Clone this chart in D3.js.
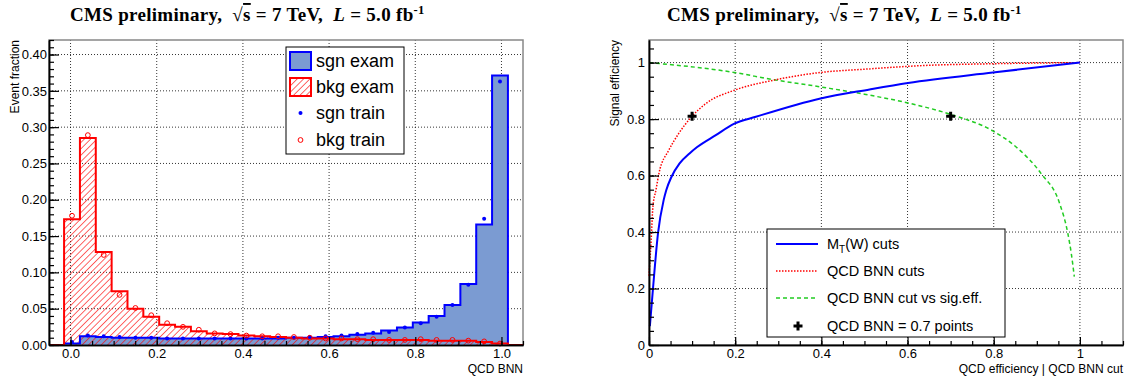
<!DOCTYPE html>
<html lang="en">
<head>
<meta charset="UTF-8">
<title>QCD BNN output and efficiencies</title>
<script src="https://d3js.org/d3.v7.min.js"></script>
<style>
body { margin: 0; background: #fff; }
text { font-family: "Liberation Sans", Arial, sans-serif; fill: #000; }
.title { font-family: "Liberation Serif", "Times New Roman", serif; font-weight: bold; font-size: 19px; letter-spacing: 0.3px; white-space: pre; }
.grid line { stroke: #000; stroke-dasharray: 1,2; stroke-width: 0.8; }
.axis path, .axis line { stroke: #000; }
.axis text { font-size: 13px; }
</style>
</head>
<body>
<script>

// ---- left: QCD BNN output, 28 bins
var binLo = -0.015, binHi = 1.015;
var sgnExam  = [0.002, 0.012, 0.011, 0.010, 0.010, 0.010, 0.009, 0.009, 0.009, 0.009, 0.009, 0.009, 0.009, 0.009,
                0.010, 0.010, 0.011, 0.012, 0.014, 0.016, 0.020, 0.024, 0.031, 0.040, 0.055, 0.084, 0.166, 0.371];
var bkgExam  = [0.173, 0.285, 0.128, 0.074, 0.050, 0.039, 0.028, 0.025, 0.019, 0.016, 0.015, 0.013, 0.012, 0.011,
                0.010, 0.009, 0.009, 0.008, 0.008, 0.007, 0.007, 0.007, 0.007, 0.006, 0.006, 0.006, 0.004, 0.002];
var sgnTrain = [0.004, 0.013, 0.012, 0.011, 0.010, 0.010, 0.009, 0.009, 0.009, 0.009, 0.009, 0.009, 0.009, 0.010,
                0.010, 0.011, 0.012, 0.013, 0.015, 0.017, 0.018, 0.024, 0.030, 0.039, 0.055, 0.083, 0.174, 0.363];
var bkgTrain = [0.178, 0.289, 0.124, 0.069, 0.051, 0.041, 0.030, 0.025, 0.021, 0.016, 0.015, 0.013, 0.012, 0.012,
                0.011, 0.010, 0.009, 0.009, 0.008, 0.008, 0.007, 0.007, 0.008, 0.007, 0.007, 0.006, 0.005, 0.002];
var histLegend = ["sgn exam", "bkg exam", "sgn train", "bkg train"];

// ---- right: efficiency curves [x, y]
var mtCuts = [[0.002, 0.067], [0.009, 0.195], [0.021, 0.397], [0.034, 0.513], [0.040, 0.548], [0.052, 0.595],
              [0.071, 0.643], [0.094, 0.678], [0.111, 0.700], [0.155, 0.743], [0.198, 0.784], [0.248, 0.808],
              [0.398, 0.873], [0.512, 0.905], [0.601, 0.928], [0.798, 0.965], [1.0, 1.0]];
var bnnCuts = [[0.0, 0.245], [0.005, 0.371], [0.009, 0.489], [0.016, 0.548], [0.023, 0.607], [0.046, 0.690],
               [0.069, 0.749], [0.097, 0.805], [0.132, 0.855], [0.198, 0.902], [0.287, 0.937], [0.398, 0.965],
               [0.504, 0.977], [0.643, 0.990], [0.798, 0.996], [1.0, 1.0]];
var bnnSigEff = [[0.0, 1.0], [0.198, 0.965], [0.287, 0.940], [0.398, 0.914], [0.500, 0.888], [0.601, 0.857],
                 [0.699, 0.817], [0.798, 0.758], [0.852, 0.701], [0.910, 0.607], [0.953, 0.501], [0.972, 0.395],
                 [0.980, 0.324], [0.987, 0.242]];
var workPoints = [[0.1, 0.81], [0.7, 0.81]];
var effLegend = ["(W) cuts", "QCD BNN cuts", "QCD BNN cut vs sig.eff.", "QCD BNN = 0.7 points"];

var W = 1126, H = 381;
var svg = d3.select("body").append("svg").attr("width", W).attr("height", H);

var defs = svg.append("defs");
var hatch = defs.append("pattern")
    .attr("id", "hatch")
    .attr("patternUnits", "userSpaceOnUse")
    .attr("width", 4.5).attr("height", 4.5)
    .attr("patternTransform", "rotate(45)");
hatch.append("line")
    .attr("x1", 0).attr("y1", 0).attr("x2", 0).attr("y2", 4.5)
    .attr("stroke", "#ff0000").attr("stroke-width", 1.2);

function title(x) {
    var t = svg.append("text").attr("class", "title").attr("x", x).attr("y", 21);
    t.append("tspan").text("CMS preliminary,  \u221A");
    t.append("tspan").style("text-decoration", "overline").text("s");
    t.append("tspan").text(" = 7 TeV,  ");
    t.append("tspan").style("font-style", "italic").text("L");
    t.append("tspan").text(" = 5.0 fb");
    t.append("tspan").attr("dy", -7).style("font-size", "12.5px").text("-1");
}

// ROOT-like frame with grid
function frame(x0, x1, y0, y1, xs, ys, o) {
    var g = svg.append("g");
    var grid = g.append("g").attr("class", "grid");
    grid.selectAll(".gx").data(o.xGrid).enter().append("line")
        .attr("x1", function(d) { return xs(d); }).attr("x2", function(d) { return xs(d); })
        .attr("y1", y0).attr("y2", y1);
    grid.selectAll(".gy").data(o.yGrid).enter().append("line")
        .attr("y1", function(d) { return ys(d); }).attr("y2", function(d) { return ys(d); })
        .attr("x1", x0).attr("x2", x1);
    g.append("rect").attr("x", x0).attr("y", y0).attr("width", x1 - x0).attr("height", y1 - y0)
        .attr("fill", "none").attr("stroke", "#888").attr("stroke-width", 1.5);
    return g;
}

// axes with inward major/minor ticks
function axes(x0, y1, xs, ys, o) {
    var g = svg.append("g");
    g.append("g").attr("class", "axis").attr("transform", "translate(0," + y1 + ")")
        .call(d3.axisBottom(xs).tickValues(o.xMinor).tickSize(-4).tickSizeOuter(0).tickFormat(""));
    g.append("g").attr("class", "axis").attr("transform", "translate(0," + y1 + ")")
        .call(d3.axisBottom(xs).tickValues(o.xMajor).tickSize(-8).tickSizeOuter(0).tickPadding(4).tickFormat(o.xFmt));
    g.append("g").attr("class", "axis").attr("transform", "translate(" + x0 + ",0)")
        .call(d3.axisLeft(ys).tickValues(o.yMinor).tickSize(-5).tickSizeOuter(0).tickFormat(""));
    g.append("g").attr("class", "axis").attr("transform", "translate(" + x0 + ",0)")
        .call(d3.axisLeft(ys).tickValues(o.yMajor).tickSize(-10).tickSizeOuter(0).tickPadding(o.yPad).tickFormat(o.yFmt));
    g.selectAll(".axis path.domain").attr("stroke-width", 1.5);
    g.selectAll(".axis line").attr("stroke-width", 1.2);
    return g;
}

// ================= left panel =================
var L = { x0: 49, x1: 523, y0: 40, y1: 345 };
var xL = d3.scaleLinear().domain([-0.05, 1.05]).range([L.x0, L.x1]);
var yL = d3.scaleLinear().domain([0, 0.42]).range([L.y1, L.y0]);
var nBins = sgnExam.length;
var bw = (binHi - binLo) / nBins;
function edge(i) { return binLo + i * bw; }

title(70);
frame(L.x0, L.x1, L.y0, L.y1, xL, yL, {
    xGrid: d3.range(0, 1.01, 0.2),
    yGrid: d3.range(0.05, 0.41, 0.05)
});

// zero line outside the histogram range
svg.append("line").attr("x1", L.x0).attr("x2", L.x1).attr("y1", L.y1).attr("y2", L.y1)
    .attr("stroke", "#800000").attr("stroke-width", 2);

function stepPts(vals) {
    var p = [[edge(0), 0]];
    vals.forEach(function(v, i) { p.push([edge(i), v]); });
    p.push([edge(vals.length), vals[vals.length - 1]]);
    p.push([edge(vals.length), 0]);
    return p;
}
var stepLine = d3.line().curve(d3.curveStepAfter)
    .x(function(d) { return xL(d[0]); }).y(function(d) { return yL(d[1]); });
var stepArea = d3.area().curve(d3.curveStepAfter)
    .x(function(d) { return xL(d[0]); }).y0(yL(0)).y1(function(d) { return yL(d[1]); });

svg.append("path").attr("d", stepArea(stepPts(sgnExam))).attr("fill", "#7b9bd2");
svg.append("path").attr("d", stepArea(stepPts(bkgExam))).attr("fill", "url(#hatch)");
svg.append("path").attr("d", stepLine(stepPts(sgnExam)))
    .attr("fill", "none").attr("stroke", "#0000ff").attr("stroke-width", 2);
svg.append("path").attr("d", stepLine(stepPts(bkgExam)))
    .attr("fill", "none").attr("stroke", "#ff0000").attr("stroke-width", 2);

svg.append("g").selectAll("circle").data(sgnTrain).enter().append("circle")
    .attr("cx", function(d, i) { return xL(edge(i) + bw / 2); })
    .attr("cy", function(d) { return yL(d); })
    .attr("r", 2).attr("fill", "#0000ff");
svg.append("g").selectAll("circle").data(bkgTrain).enter().append("circle")
    .attr("cx", function(d, i) { return xL(edge(i) + bw / 2); })
    .attr("cy", function(d) { return yL(d); })
    .attr("r", 2.4).attr("fill", "none").attr("stroke", "#ff0000").attr("stroke-width", 1);

axes(L.x0, L.y1, xL, yL, {
    xMajor: d3.range(0, 1.01, 0.2), xMinor: d3.range(-0.05, 1.051, 0.05), xFmt: d3.format(".1f"),
    yMajor: d3.range(0, 0.401, 0.05), yMinor: d3.range(0, 0.4201, 0.01), yFmt: d3.format(".2f"), yPad: 2
});

svg.append("text").attr("transform", "translate(19,40) rotate(-90)")
    .attr("text-anchor", "end").style("font-size", "12px").text("Event fraction");
svg.append("text").attr("x", L.x1).attr("y", 373)
    .attr("text-anchor", "end").style("font-size", "12px").text("QCD BNN");

// legend
var lg = svg.append("g");
lg.append("rect").attr("x", 286).attr("y", 47).attr("width", 118).attr("height", 107)
    .attr("fill", "#fff").attr("stroke", "#000").attr("stroke-width", 1);
var lgY = [61, 87, 113, 140];
lg.append("rect").attr("x", 290).attr("y", lgY[0] - 9).attr("width", 21).attr("height", 18)
    .attr("fill", "#7b9bd2").attr("stroke", "#0000ff").attr("stroke-width", 2);
lg.append("rect").attr("x", 290).attr("y", lgY[1] - 9).attr("width", 21).attr("height", 18)
    .attr("fill", "url(#hatch)").attr("stroke", "#ff0000").attr("stroke-width", 2);
lg.append("circle").attr("cx", 300.5).attr("cy", lgY[2]).attr("r", 2).attr("fill", "#0000ff");
lg.append("circle").attr("cx", 300.5).attr("cy", lgY[3]).attr("r", 2.4)
    .attr("fill", "none").attr("stroke", "#ff0000");
lg.selectAll("text").data(histLegend).enter().append("text")
    .attr("x", 316).attr("y", function(d, i) { return lgY[i]; }).attr("dy", "0.36em")
    .style("font-size", "18px").text(function(d) { return d; });

// ================= right panel =================
var R = { x0: 649, x1: 1123, y0: 40, y1: 345 };
var xR = d3.scaleLinear().domain([0, 1.1]).range([R.x0, R.x1]);
var yR = d3.scaleLinear().domain([0, 1.08]).range([R.y1, R.y0]);

title(667);
frame(R.x0, R.x1, R.y0, R.y1, xR, yR, {
    xGrid: d3.range(0.2, 1.01, 0.2),
    yGrid: d3.range(0.2, 1.01, 0.2)
});

var curve = d3.line().curve(d3.curveMonotoneX)
    .x(function(d) { return xR(d[0]); }).y(function(d) { return yR(d[1]); });

svg.append("path").attr("d", curve(bnnSigEff)).attr("fill", "none")
    .attr("stroke", "#22cc22").attr("stroke-width", 1.5).attr("stroke-dasharray", "4,3");
svg.append("path").attr("d", curve(bnnCuts)).attr("fill", "none")
    .attr("stroke", "#ff0000").attr("stroke-width", 1.5).attr("stroke-dasharray", "1.5,1.5");
svg.append("path").attr("d", curve(mtCuts)).attr("fill", "none")
    .attr("stroke", "#0000ff").attr("stroke-width", 2);

var cross = d3.symbol().type(d3.symbolCross).size(45);
svg.append("g").selectAll("path").data(workPoints).enter().append("path")
    .attr("d", cross)
    .attr("transform", function(d) { return "translate(" + xR(d[0]) + "," + yR(d[1]) + ")"; })
    .attr("fill", "#000");

axes(R.x0, R.y1, xR, yR, {
    xMajor: d3.range(0, 1.01, 0.2), xMinor: d3.range(0, 1.101, 0.05), xFmt: d3.format("~g"),
    yMajor: d3.range(0, 1.01, 0.2), yMinor: d3.range(0, 1.0801, 0.05), yFmt: d3.format("~g"), yPad: 4
});

svg.append("text").attr("transform", "translate(619,40) rotate(-90)")
    .attr("text-anchor", "end").style("font-size", "12px").text("Signal efficiency");
svg.append("text").attr("x", R.x1).attr("y", 373)
    .attr("text-anchor", "end").style("font-size", "12px").text("QCD efficiency | QCD BNN cut");

// legend
var rg = svg.append("g");
rg.append("rect").attr("x", 767).attr("y", 229).attr("width", 238).attr("height", 108)
    .attr("fill", "#fff").attr("stroke", "#000").attr("stroke-width", 1);
var rgY = [244, 271, 298, 326];
rg.append("line").attr("x1", 776).attr("x2", 818).attr("y1", rgY[0]).attr("y2", rgY[0])
    .attr("stroke", "#0000ff").attr("stroke-width", 2);
rg.append("line").attr("x1", 776).attr("x2", 818).attr("y1", rgY[1]).attr("y2", rgY[1])
    .attr("stroke", "#ff0000").attr("stroke-width", 1.5).attr("stroke-dasharray", "1.5,1.5");
rg.append("line").attr("x1", 776).attr("x2", 818).attr("y1", rgY[2]).attr("y2", rgY[2])
    .attr("stroke", "#22cc22").attr("stroke-width", 1.5).attr("stroke-dasharray", "4,3");
rg.append("path").attr("d", cross).attr("transform", "translate(798," + rgY[3] + ")").attr("fill", "#000");
rg.selectAll("text").data(effLegend).enter().append("text")
    .attr("x", 827).attr("y", function(d, i) { return rgY[i]; }).attr("dy", "0.36em")
    .style("font-size", "14.5px")
    .each(function(d, i) {
        var t = d3.select(this);
        if (i === 0) {
            t.append("tspan").text("M");
            t.append("tspan").attr("dy", 4).style("font-size", "10px").text("T");
            t.append("tspan").attr("dy", -4).text(d);
        } else {
            t.text(d);
        }
    });

</script>
</body>
</html>
